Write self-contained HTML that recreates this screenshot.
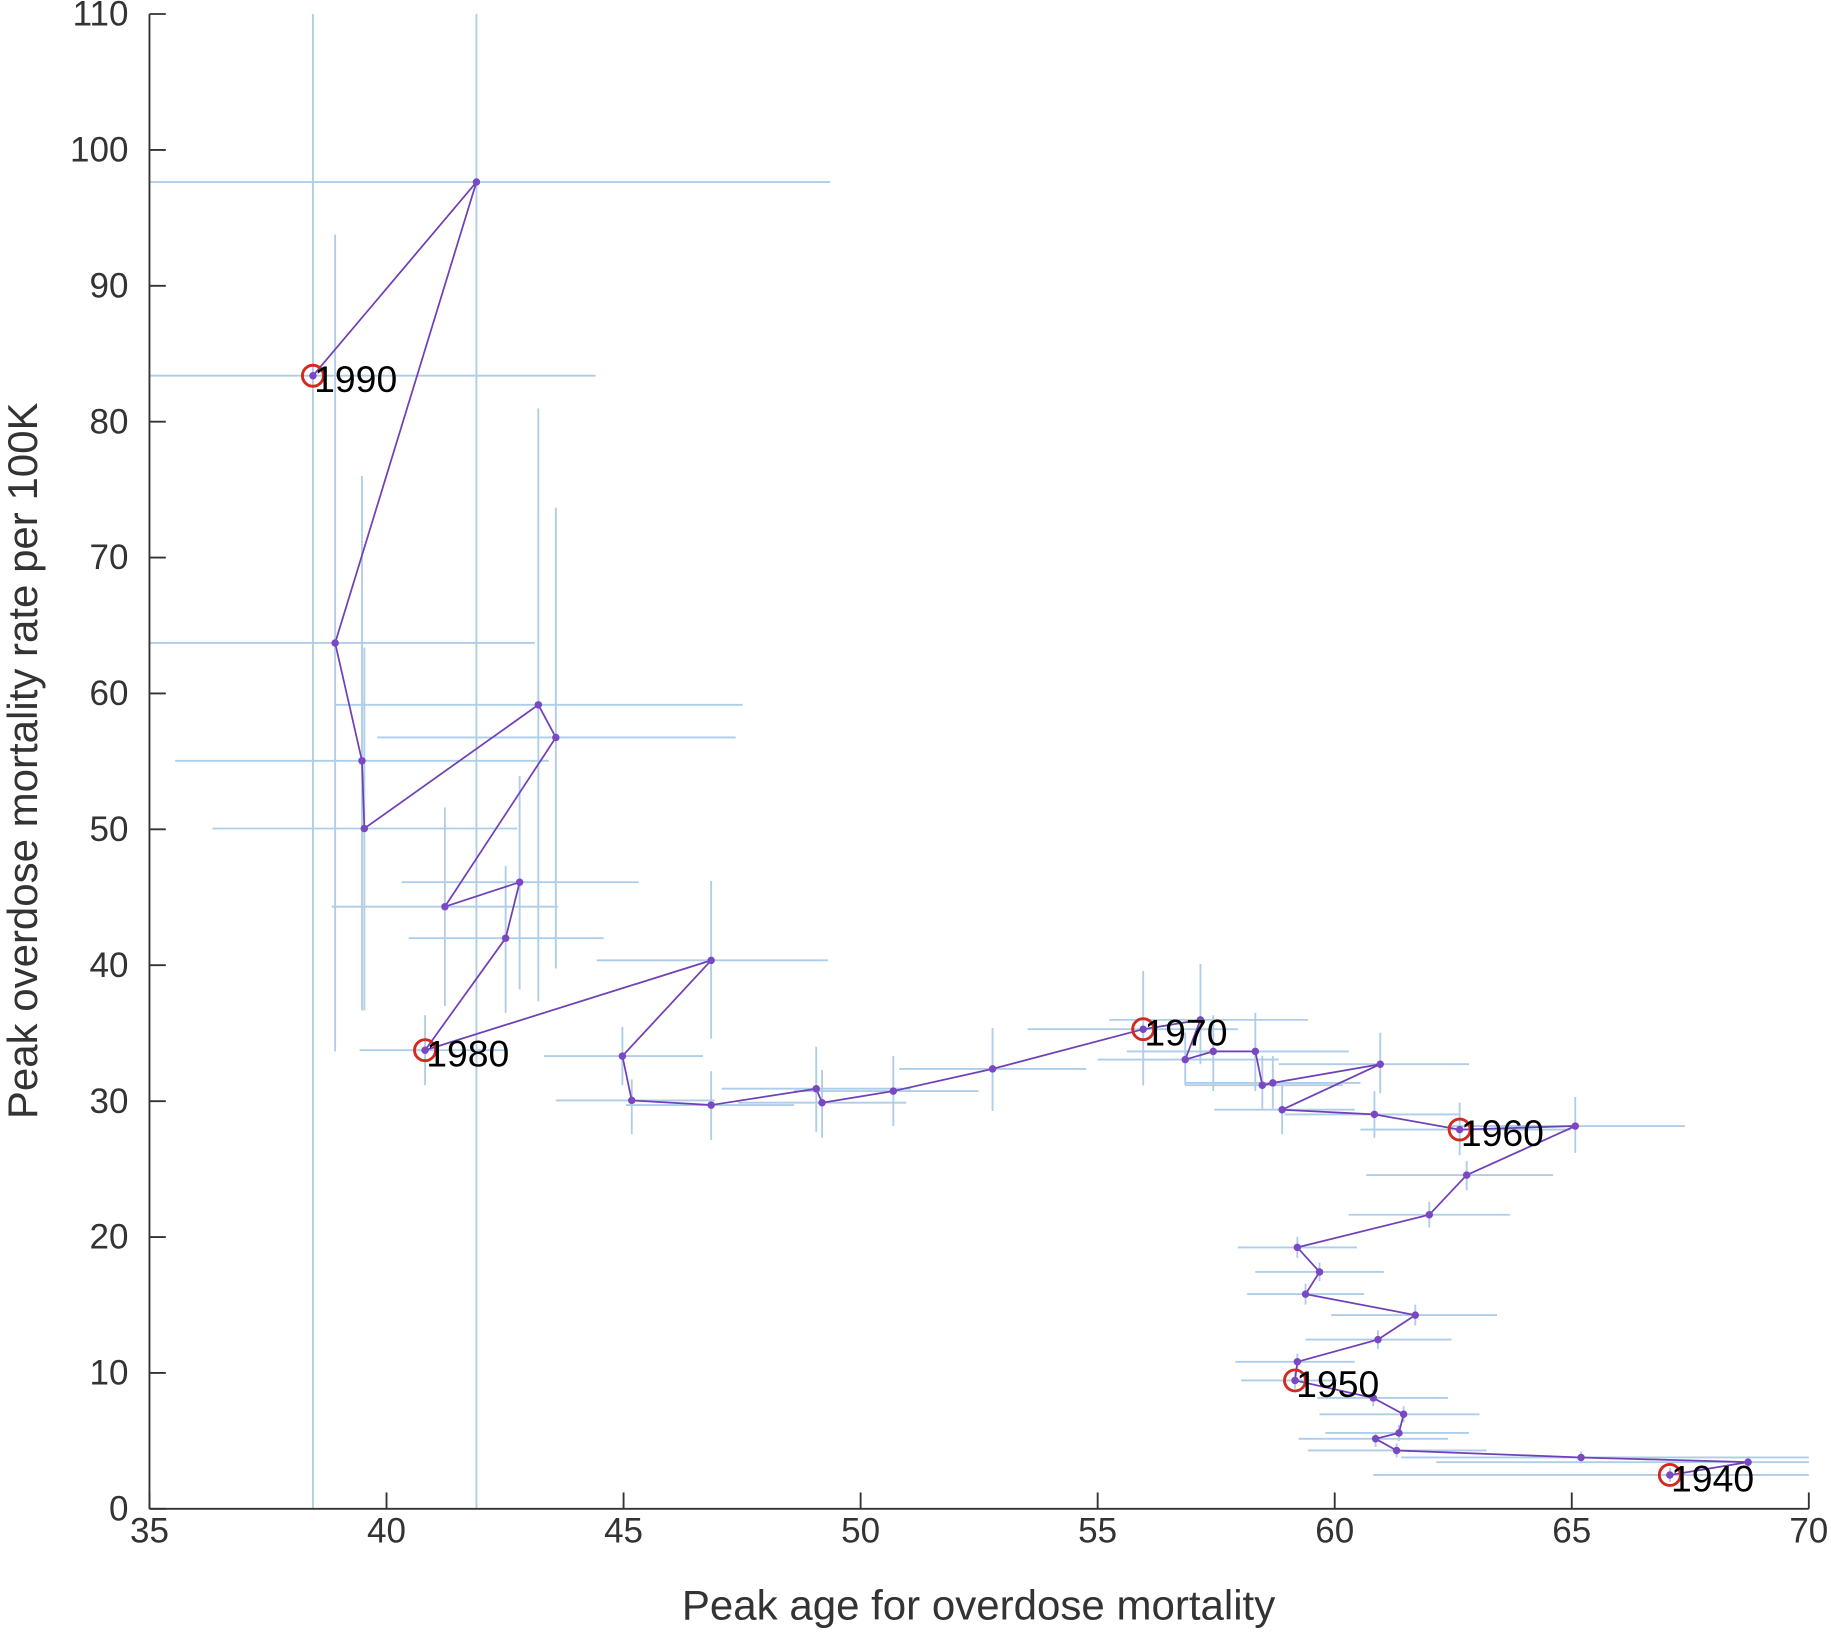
<!DOCTYPE html>
<html><head><meta charset="utf-8"><style>
html,body{margin:0;padding:0;background:#fff;}
svg{display:block;}
text{font-family:"Liberation Sans",Arial,sans-serif;}
</style></head><body>
<svg id="s" width="1831" height="1643" viewBox="0 0 1568 1408" preserveAspectRatio="none" xmlns="http://www.w3.org/2000/svg">
<g id="eb" stroke="#aecde8" stroke-width="1.6" fill="none"></g>
<g id="ax" stroke="#333" stroke-width="1.6"></g>
<polyline id="pl" fill="none" stroke="#7040b8" stroke-width="1.5"/>
<g id="dots" fill="#7a48c2"></g>
<g id="mk" fill="none" stroke="#d42a1e" stroke-width="2.5"></g>
<g id="lb" font-size="32" fill="#000"></g>
<g id="tl" font-size="30" fill="#333"></g>
<text x="838" y="1388" font-size="36" fill="#333" text-anchor="middle">Peak age for overdose mortality</text>
<text transform="translate(22,652) rotate(-90)" font-size="36" fill="#333" text-anchor="middle" dominant-baseline="middle">Peak overdose mortality rate per 100K</text>
</svg>
<script>
const NS="http://www.w3.org/2000/svg";
function el(p,t,a,txt){const e=document.createElementNS(NS,t);for(const k in a)e.setAttribute(k,a[k]);if(txt!==undefined)e.textContent=txt;document.getElementById(p).appendChild(e);}
const X=v=>128+(v-35)*(1421/35), Y=v=>1293-v*(1281/110);
el('ax','line',{x1:128,y1:12,x2:128,y2:1293});
el('ax','line',{x1:128,y1:1293,x2:1549,y2:1293});
for(let v=35;v<=70;v+=5){const x=X(v);el('ax','line',{x1:x,y1:1293,x2:x,y2:1279});el('tl','text',{x:x,y:1322,'text-anchor':'middle'},v);}
for(let v=0;v<=110;v+=10){const y=Y(v);el('ax','line',{x1:128,y1:y,x2:142,y2:y});el('tl','text',{x:110,y:y+10,'text-anchor':'end'},v);}
const pts=[[1430,1264],[1497,1253],[1354,1249],[1196,1243],[1178,1233],[1198,1228],[1202,1212],[1176,1198],[1109,1183],
[1111,1167],[1180,1148],[1212,1127],[1118,1109],[1130,1090],[1111,1069],[1224,1041],[1256,1007],[1349,965],[1250,968],
[1177,955],[1098,951],[1182,912],[1090,928],[1081,930],[1075,901],[1039,901],[1015,908],[1028,874],[979,882],
[850,916],[765,935],[704,945],[699,933],[609,947],[541,943],[533,905],[609,823],[364,900],
[433,804],[445,756],[381,777],[476,632],[461,604],[312,710],[310,652],[287,551],[408,156],[268,322]];
const eb=[[268,322,128,510,12,1293],[408,156,128,711,12,1293],[287,551,128,458,201,901],[310,652,150,470,408,866],
[312,710,182,443,555,866],[461,604,287,636,350,858],[476,632,323,630,435,830],[381,777,284,478,692,862],
[445,756,344,547,665,848],[433,804,350,517,742,868],[364,900,308,435,870,930],[609,823,511,709,755,890],
[533,905,466,602,880,930],[541,943,476,612,925,972],[609,947,536,680,918,977],[699,933,618,780,897,970],
[704,945,632,776,917,975],[765,935,680,838,905,965],[850,916,770,930,881,952],[979,882,880,1060,832,930],
[1028,874,950,1120,826,912],[1015,908,940,1095,885,930],[1039,901,965,1128,870,935],[1075,901,1000,1155,868,935],
[1081,930,1015,1150,905,950],[1090,928,1015,1165,905,950],[1182,912,1095,1258,885,937],[1098,951,1040,1160,930,972],
[1177,955,1100,1250,935,975],[1250,968,1165,1345,945,990],[1349,965,1240,1443,940,988],[1256,1007,1170,1330,995,1020],
[1224,1041,1155,1293,1030,1052],[1111,1069,1060,1162,1060,1078],[1130,1090,1075,1185,1082,1098],[1118,1109,1068,1168,1100,1118],
[1212,1127,1140,1282,1118,1136],[1180,1148,1118,1243,1140,1156],[1111,1167,1058,1160,1160,1175],[1109,1183,1063,1145,1176,1190],
[1176,1198,1128,1240,1191,1205],[1202,1212,1130,1267,1205,1219],[1198,1228,1135,1258,1221,1235],[1178,1233,1112,1240,1227,1240],
[1196,1243,1120,1273,1237,1249],[1354,1249,1200,1549,1244,1254],[1497,1253,1230,1549,1248,1258],[1430,1264,1176,1549,1258,1270]];
eb.forEach(b=>{el('eb','line',{x1:b[2],y1:b[1],x2:b[3],y2:b[1]});el('eb','line',{x1:b[0],y1:b[4],x2:b[0],y2:b[5]});});
document.getElementById('pl').setAttribute('points',pts.map(p=>p.join(',')).join(' '));
pts.forEach(p=>el('dots','circle',{cx:p[0],cy:p[1],r:3.2}));
[[268,322,'1990'],[364,900,'1980'],[979,882,'1970'],[1250,968,'1960'],[1109,1183,'1950'],[1430,1264,'1940']].forEach(m=>{
el('mk','circle',{cx:m[0],cy:m[1],r:9});el('lb','text',{x:m[0]+1,y:m[1]+14},m[2]);});
</script>
</body></html>
